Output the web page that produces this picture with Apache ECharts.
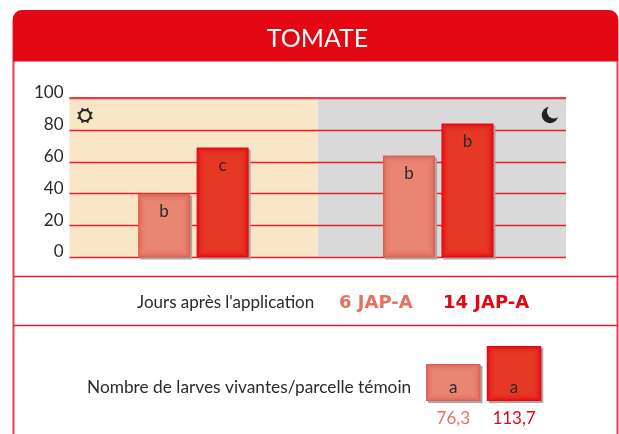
<!DOCTYPE html>
<html>
<head>
<meta charset="utf-8">
<title>TOMATE</title>
<script src="https://cdn.jsdelivr.net/npm/echarts@6/dist/echarts.min.js"></script>
<style>
html,body{margin:0;padding:0;background:#fff;}
#main{width:619px;height:434px;}
</style>
</head>
<body>
<div id="main"></div>
<script>
var periods = ['Jour', 'Nuit'];
var jap6 = [40, 64];
var jap14 = [69, 84];
var jap6Letters = ['b', 'b'];
var jap14Letters = ['c', 'b'];

var temoinNames = ['76,3', '113,7'];
var temoinValues = [76.3, 113.7];
var temoinLetters = ['a', 'a'];

var RED = '#e30613';
var LINE = '#e41e2e';
var FONT = 'Lato, "Open Sans", sans-serif';
var light = {edge: '#dc6052', fill: '#ea8a78'};
var strong = {edge: '#e30613', fill: '#e63e27'};

function drawBar(api, x, val, w, colors, letter, labelDy, fromBottom){
    var base = api.coord([0, 0])[1];
    var top = api.coord([0, val])[1];
    var h = base - top;
    var left = x - w / 2;
    var kids = [
        {type: 'rect', shape: {x: left + 2, y: top + 2, width: w, height: h},
         style: {fill: '#a9a6a4'}},
        {type: 'rect', shape: {x: left, y: top, width: w, height: h},
         style: {fill: colors.edge}}
    ];
    // stacked see through rects make the soft inner edge
    for(var s = 1; s <= 8; s++){
        kids.push({type: 'rect',
            shape: {x: left + s, y: top + s, width: w - 2 * s, height: h - 2 * s},
            style: {fill: colors.fill, opacity: 0.25}});
    }
    kids.push({type: 'text', x: x, y: fromBottom ? base - labelDy : top + labelDy,
        style: {text: letter, fill: '#2b2b2b', font: '17px ' + FONT, align: 'center', verticalAlign: 'middle'}});
    return {type: 'group', children: kids};
}

// the right pair sits a little left of the middle of its band
var pairShift = [0, -3.4];

function pairRender(values, letters, colors, side){
    return function(params, api){
        var i = params.dataIndex;
        var x = api.coord([i, 0])[0] + pairShift[i] + side;
        return drawBar(api, x, values[i], 52, colors, letters[i], 18, false);
    };
}

function temoinRender(params, api){
    var i = params.dataIndex;
    var x = api.coord([i, 0])[0];
    return drawBar(api, x, temoinValues[i], 54.5, i === 0 ? light : strong, temoinLetters[i], 13, true);
}

function sunIcon(cx, cy){
    var kids = [{type: 'circle', z: 10, shape: {cx: cx, cy: cy, r: 5.5},
        style: {fill: 'transparent', stroke: '#222', lineWidth: 2}}];
    for(var a = 0; a < 8; a++){
        var t = a * Math.PI / 4 + Math.PI / 8;
        kids.push({type: 'circle', z: 10,
            shape: {cx: cx + 7 * Math.cos(t), cy: cy + 7 * Math.sin(t), r: 1.1},
            style: {fill: '#222'}});
    }
    return {type: 'group', children: kids};
}

function label(x, y, text, font, color){
    return {type: 'text', x: x, y: y, z: 10, style: {
        text: text, fill: color, align: 'left', verticalAlign: 'middle', font: font
    }};
}

var chart = echarts.init(document.getElementById('main'));
chart.setOption({
    animation: false,
    backgroundColor: '#fff',
    title: {
        text: 'TOMATE', left: 312.5, top: 21, textAlign: 'center', z: 10,
        textStyle: {color: '#fff', fontSize: 25, fontWeight: 'normal', fontFamily: FONT}
    },
    grid: [
        {left: 69.5, top: 98, width: 496.5, height: 159.5},
        {left: 422.9, top: 343, width: 121.5, height: 58}
    ],
    xAxis: [
        {
            type: 'category', gridIndex: 0, data: periods, z: 0,
            axisLine: {show: false}, axisTick: {show: false}, axisLabel: {show: false},
            splitLine: {show: false},
            splitArea: {show: true, areaStyle: {color: ['#f9e6c7', '#d9d9d9']}}
        },
        {
            type: 'category', gridIndex: 1, data: temoinNames,
            axisLine: {show: false}, axisTick: {show: false},
            axisLabel: {
                margin: 9, fontSize: 17, fontFamily: FONT,
                color: function(v, i){ return i === 0 ? '#e8705f' : RED; }
            }
        }
    ],
    yAxis: [
        {
            type: 'value', gridIndex: 0, min: 0, max: 100, interval: 20, z: 1,
            axisLine: {show: false}, axisTick: {show: false},
            axisLabel: {
                margin: 6, fontSize: 17, color: '#2b2b2b', fontFamily: FONT,
                verticalAlign: 'bottom', lineHeight: 11
            },
            splitLine: {show: true, lineStyle: {color: LINE, width: 1.3}}
        },
        {
            type: 'value', gridIndex: 1, min: 0, max: 120, show: false,
            splitLine: {show: false}
        }
    ],
    series: [
        {
            name: '6 JAP-A', type: 'custom', xAxisIndex: 0, yAxisIndex: 0,
            data: jap6.map(function(v, i){ return [i, v]; }),
            renderItem: pairRender(jap6, jap6Letters, light, -29.5)
        },
        {
            name: '14 JAP-A', type: 'custom', xAxisIndex: 0, yAxisIndex: 0,
            data: jap14.map(function(v, i){ return [i, v]; }),
            renderItem: pairRender(jap14, jap14Letters, strong, 29)
        },
        {
            name: 'Témoin', type: 'custom', xAxisIndex: 1, yAxisIndex: 1,
            data: temoinValues.map(function(v, i){ return [i, v]; }),
            renderItem: temoinRender
        }
    ],
    graphic: [
        // card outline, open at the bottom of the window
        {type: 'rect', z: -1, shape: {x: 13.5, y: 11, width: 604, height: 440, r: [9, 9, 0, 0]},
         style: {fill: '#fff', stroke: '#e8404e', lineWidth: 2}},
        {type: 'rect', z: 2, shape: {x: 13, y: 10, width: 605, height: 51.5, r: [9, 9, 0, 0]},
         style: {fill: RED}},
        {type: 'line', z: 2, shape: {x1: 14, y1: 276.5, x2: 617, y2: 276.5}, style: {stroke: LINE, lineWidth: 1.3}},
        {type: 'line', z: 2, shape: {x1: 14, y1: 325.5, x2: 617, y2: 325.5}, style: {stroke: LINE, lineWidth: 1.3}},
        {type: 'line', z: 2, shape: {x1: 69.5, y1: 98, x2: 566, y2: 98}, style: {stroke: '#e8404e', lineWidth: 2}},
        sunIcon(85, 115.5),
        // moon: dark disc with a band coloured disc over it
        {type: 'circle', z: 10, shape: {cx: 550, cy: 115, r: 8.3}, style: {fill: '#222'}},
        {type: 'circle', z: 11, shape: {cx: 554, cy: 111.5, r: 7}, style: {fill: '#d9d9d9'}},
        label(137, 303, "Jours après l'application", '17px ' + FONT, '#2b2b2b'),
        label(339, 303, '6 JAP-A', 'bold 18px "DejaVu Sans"', '#e8705f'),
        label(443, 303, '14 JAP-A', 'bold 18px "DejaVu Sans"', RED),
        label(87, 387, 'Nombre de larves vivantes/parcelle témoin', '17.3px ' + FONT, '#2b2b2b')
    ]
});
</script>
</body>
</html>
